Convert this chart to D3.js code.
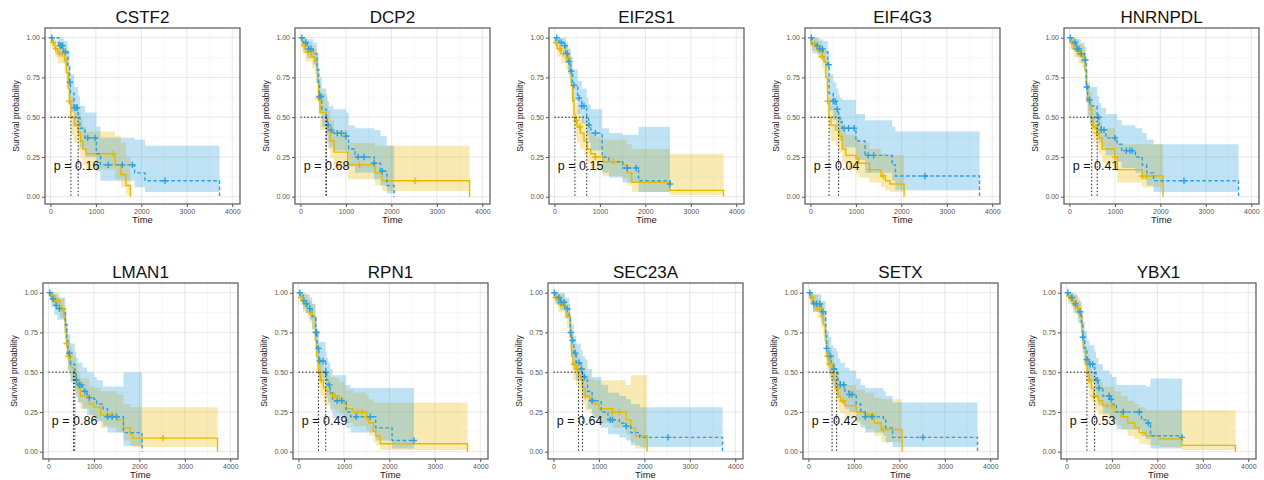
<!DOCTYPE html>
<html>
<head>
<meta charset="utf-8">
<script src="https://cdn.jsdelivr.net/npm/d3@7"></script>
<style>
  body { margin: 0; background: #fff; }
  svg { display: block; font-family: Arial, "Liberation Sans", sans-serif; }
</style>
</head>
<body>
<svg id="chart" width="1264" height="480"></svg>
<script>
const genes = ['CSTF2', 'DCP2', 'EIF2S1', 'EIF4G3', 'HNRNPDL', 'LMAN1', 'RPN1', 'SEC23A', 'SETX', 'YBX1'];
const pValues = ['0.16', '0.68', '0.15', '0.04', '0.41', '0.86', '0.49', '0.64', '0.42', '0.53'];
const xTicks = [0, 1000, 2000, 3000, 4000];
const yTicks = [0, 0.25, 0.5, 0.75, 1];

// rows: [time, survival, lower, upper]
const CSTF2_gold = [[0,1,1,1],[30,0.97,0.93,1],[100,0.93,0.88,0.99],[160,0.9,0.84,0.97],[310,0.86,0.79,0.94],[350,0.78,0.69,0.88],[390,0.68,0.58,0.8],[420,0.6,0.49,0.72],[450,0.5,0.39,0.63],[520,0.45,0.34,0.58],[610,0.4,0.29,0.54],[660,0.35,0.24,0.49],[710,0.3,0.2,0.44],[780,0.27,0.17,0.41],[1420,0.2,0.11,0.38],[1550,0.14,0.06,0.34],[1660,0.07,0.01,0.25],[1760,0,0,0]];
const CSTF2_blue = [[0,1,1,1],[180,0.95,0.89,1],[290,0.91,0.84,0.98],[380,0.82,0.73,0.92],[420,0.72,0.61,0.83],[440,0.65,0.53,0.77],[520,0.56,0.44,0.69],[610,0.5,0.38,0.63],[650,0.43,0.31,0.57],[760,0.37,0.25,0.53],[1010,0.27,0.16,0.44],[1100,0.2,0.1,0.37],[1850,0.15,0.06,0.36],[2080,0.1,0.03,0.32],[3720,0,0,0]];
const CSTF2_goldCens = [60, 120, 200, 260, 420, 1380];
const CSTF2_blueCens = [30, 210, 240, 270, 330, 430, 530, 570, 590, 820, 980, 1270, 1580, 1800, 2520];

const DCP2_gold = [[0,1,1,1],[40,0.95,0.9,1],[110,0.91,0.85,0.97],[250,0.88,0.81,0.95],[310,0.85,0.77,0.93],[370,0.72,0.62,0.82],[400,0.62,0.51,0.73],[430,0.53,0.42,0.65],[560,0.5,0.39,0.62],[600,0.41,0.3,0.54],[660,0.35,0.24,0.48],[740,0.28,0.18,0.42],[1040,0.2,0.11,0.34],[1640,0.15,0.07,0.32],[1800,0.1,0.035,0.32],[3720,0,0,0]];
const DCP2_blue = [[0,1,1,1],[60,0.97,0.92,1],[150,0.93,0.87,0.99],[280,0.9,0.83,0.97],[360,0.8,0.71,0.9],[400,0.7,0.6,0.8],[420,0.63,0.52,0.75],[470,0.55,0.44,0.68],[570,0.5,0.39,0.64],[590,0.45,0.34,0.6],[630,0.42,0.31,0.57],[720,0.4,0.29,0.55],[1000,0.38,0.27,0.53],[1060,0.3,0.19,0.45],[1200,0.25,0.15,0.43],[1620,0.21,0.11,0.42],[1760,0.16,0.07,0.38],[1900,0.07,0.02,0.32],[2060,0,0,0]];
const DCP2_goldCens = [90, 160, 220, 400, 1300, 2520];
const DCP2_blueCens = [30, 120, 180, 230, 420, 450, 610, 680, 810, 900, 1000, 1270, 1400, 1620, 1800];

const EIF2S1_gold = [[0,1,1,1],[20,0.97,0.93,1],[60,0.93,0.88,0.98],[150,0.9,0.84,0.96],[260,0.87,0.8,0.94],[330,0.8,0.72,0.89],[370,0.7,0.61,0.8],[400,0.6,0.5,0.7],[430,0.52,0.42,0.63],[450,0.48,0.38,0.59],[500,0.44,0.34,0.55],[570,0.4,0.3,0.51],[650,0.35,0.26,0.47],[720,0.3,0.21,0.42],[800,0.27,0.18,0.39],[900,0.25,0.16,0.37],[1060,0.22,0.13,0.36],[1500,0.2,0.11,0.36],[1600,0.15,0.07,0.33],[1700,0.09,0.03,0.3],[2540,0.04,0.01,0.27],[3720,0,0,0]];
const EIF2S1_blue = [[0,1,1,1],[100,0.97,0.93,1],[200,0.95,0.9,1],[250,0.9,0.84,0.97],[300,0.85,0.77,0.93],[360,0.79,0.7,0.88],[400,0.7,0.6,0.8],[510,0.62,0.52,0.73],[600,0.57,0.46,0.68],[710,0.5,0.39,0.62],[750,0.45,0.34,0.58],[800,0.4,0.29,0.55],[1050,0.25,0.15,0.43],[1200,0.22,0.12,0.4],[1500,0.18,0.09,0.39],[1850,0.1,0.03,0.44],[2540,0.08,0.02,0.44]];
const EIF2S1_goldCens = [40, 120, 200, 300, 480, 560, 900, 1300];
const EIF2S1_blueCens = [50, 150, 230, 280, 320, 370, 430, 540, 600, 650, 760, 900, 1600, 1800, 2540];

const EIF4G3_gold = [[0,1,1,1],[10,0.96,0.92,1],[150,0.92,0.87,0.98],[250,0.88,0.81,0.95],[300,0.85,0.77,0.93],[340,0.75,0.66,0.85],[380,0.6,0.5,0.71],[410,0.5,0.4,0.62],[450,0.45,0.35,0.57],[550,0.42,0.32,0.54],[620,0.38,0.28,0.5],[700,0.3,0.21,0.43],[780,0.26,0.17,0.39],[1000,0.24,0.15,0.37],[1060,0.21,0.12,0.34],[1300,0.17,0.09,0.3],[1550,0.13,0.06,0.27],[1650,0.1,0.04,0.26],[1750,0.08,0.03,0.26],[2060,0,0,0]];
const EIF4G3_blue = [[0,1,1,1],[40,0.95,0.9,1],[200,0.93,0.87,0.99],[280,0.91,0.84,0.98],[380,0.83,0.74,0.92],[410,0.65,0.54,0.77],[500,0.6,0.48,0.72],[570,0.55,0.43,0.68],[620,0.5,0.38,0.64],[650,0.47,0.35,0.62],[700,0.43,0.31,0.61],[1000,0.35,0.23,0.52],[1200,0.26,0.15,0.48],[1800,0.2,0.1,0.44],[1870,0.13,0.04,0.41],[3720,0,0,0]];
const EIF4G3_goldCens = [100, 200, 260, 380, 1300, 1600];
const EIF4G3_blueCens = [20, 150, 200, 260, 400, 500, 540, 590, 740, 840, 960, 1270, 1390, 2520];

const HNRNPDL_gold = [[0,1,1,1],[20,0.97,0.93,1],[100,0.93,0.88,0.99],[200,0.9,0.84,0.96],[280,0.88,0.81,0.95],[340,0.8,0.72,0.88],[370,0.7,0.61,0.79],[400,0.6,0.5,0.7],[450,0.55,0.45,0.66],[490,0.5,0.4,0.61],[520,0.44,0.34,0.56],[600,0.4,0.3,0.52],[650,0.37,0.27,0.49],[720,0.3,0.21,0.43],[1000,0.25,0.16,0.38],[1050,0.17,0.09,0.33],[1600,0.13,0.06,0.33],[2060,0,0,0]];
const HNRNPDL_blue = [[0,1,1,1],[40,0.97,0.93,1],[150,0.93,0.88,0.99],[250,0.9,0.84,0.97],[330,0.86,0.79,0.94],[370,0.69,0.59,0.8],[400,0.61,0.5,0.72],[450,0.57,0.46,0.69],[610,0.5,0.39,0.63],[650,0.45,0.34,0.59],[700,0.42,0.31,0.56],[800,0.37,0.26,0.52],[1050,0.33,0.22,0.48],[1150,0.29,0.18,0.45],[1450,0.25,0.15,0.43],[1600,0.2,0.11,0.4],[1700,0.15,0.07,0.36],[1850,0.1,0.03,0.33],[3720,0,0,0]];
const HNRNPDL_goldCens = [60, 130, 180, 240, 560, 600, 1000, 1600, 1700];
const HNRNPDL_blueCens = [20, 120, 170, 210, 260, 350, 380, 440, 640, 700, 760, 1000, 1250, 1330, 1380, 2520];

const LMAN1_gold = [[0,1,1,1],[50,0.98,0.95,1],[150,0.95,0.9,1],[250,0.9,0.84,0.96],[340,0.85,0.78,0.92],[370,0.75,0.67,0.84],[400,0.68,0.59,0.77],[420,0.6,0.51,0.7],[460,0.57,0.48,0.67],[500,0.53,0.44,0.63],[550,0.5,0.41,0.6],[600,0.45,0.36,0.55],[650,0.4,0.31,0.5],[700,0.35,0.27,0.46],[900,0.3,0.22,0.41],[1000,0.28,0.2,0.4],[1150,0.23,0.15,0.38],[1500,0.2,0.12,0.36],[1650,0.15,0.07,0.3],[1800,0.11,0.04,0.28],[1850,0.085,0.03,0.28],[3720,0,0,0]];
const LMAN1_blue = [[0,1,1,1],[60,0.96,0.91,1],[130,0.92,0.86,0.99],[200,0.9,0.83,0.97],[370,0.8,0.71,0.89],[400,0.7,0.6,0.81],[430,0.62,0.51,0.74],[480,0.55,0.44,0.68],[580,0.5,0.39,0.63],[610,0.45,0.34,0.59],[650,0.42,0.31,0.56],[750,0.38,0.27,0.53],[850,0.34,0.23,0.5],[1000,0.33,0.22,0.47],[1060,0.3,0.19,0.45],[1200,0.27,0.16,0.41],[1300,0.22,0.12,0.41],[1650,0.12,0.035,0.5],[2060,0,0,0]];
const LMAN1_goldCens = [80, 150, 200, 250, 300, 400, 450, 1300, 1400, 2520];
const LMAN1_blueCens = [30, 100, 170, 240, 460, 620, 680, 720, 800, 900, 1300, 1400, 1500];

const RPN1_gold = [[0,1,1,1],[30,0.97,0.93,1],[100,0.93,0.88,0.99],[200,0.9,0.84,0.96],[250,0.88,0.81,0.95],[300,0.85,0.77,0.93],[370,0.7,0.61,0.8],[400,0.6,0.5,0.7],[440,0.5,0.4,0.61],[480,0.45,0.35,0.56],[550,0.4,0.31,0.51],[600,0.38,0.29,0.49],[700,0.36,0.27,0.47],[800,0.35,0.26,0.46],[900,0.33,0.24,0.44],[1000,0.3,0.21,0.42],[1050,0.27,0.18,0.39],[1200,0.25,0.16,0.37],[1500,0.22,0.13,0.35],[1550,0.18,0.1,0.33],[1650,0.13,0.06,0.31],[1700,0.1,0.04,0.31],[1800,0.05,0.01,0.31],[3720,0,0,0]];
const RPN1_blue = [[0,1,1,1],[100,0.95,0.9,1],[150,0.93,0.87,0.99],[250,0.9,0.83,0.97],[300,0.85,0.77,0.93],[380,0.75,0.65,0.85],[410,0.65,0.54,0.76],[450,0.57,0.46,0.69],[600,0.5,0.39,0.63],[620,0.45,0.34,0.59],[650,0.42,0.31,0.56],[700,0.37,0.26,0.52],[750,0.32,0.21,0.48],[1050,0.25,0.15,0.42],[1150,0.22,0.12,0.4],[1700,0.15,0.07,0.4],[2060,0.07,0.02,0.4],[2540,0.07,0.02,0.4]];
const RPN1_goldCens = [60, 150, 250, 470, 500, 800, 1300, 1400, 1500];
const RPN1_blueCens = [30, 120, 180, 250, 380, 400, 440, 470, 540, 600, 680, 850, 950, 1270, 1580, 2540];

const SEC23A_gold = [[0,1,1,1],[20,0.97,0.93,1],[100,0.93,0.88,0.99],[250,0.9,0.84,0.96],[300,0.85,0.78,0.93],[370,0.72,0.63,0.82],[400,0.6,0.5,0.7],[430,0.55,0.45,0.66],[500,0.52,0.42,0.63],[550,0.48,0.38,0.59],[600,0.45,0.35,0.56],[650,0.4,0.3,0.52],[700,0.35,0.26,0.48],[800,0.33,0.24,0.46],[900,0.3,0.21,0.45],[1000,0.27,0.18,0.45],[1300,0.25,0.15,0.45],[1600,0.2,0.11,0.42],[1700,0.15,0.06,0.48],[1800,0.1,0.02,0.48],[2060,0,0,0]];
const SEC23A_blue = [[0,1,1,1],[50,0.97,0.93,1],[150,0.94,0.89,1],[250,0.9,0.84,0.97],[350,0.85,0.77,0.93],[370,0.75,0.66,0.85],[400,0.7,0.6,0.8],[450,0.62,0.51,0.73],[500,0.56,0.45,0.68],[600,0.52,0.41,0.64],[640,0.47,0.36,0.6],[700,0.45,0.34,0.58],[750,0.38,0.27,0.52],[850,0.32,0.21,0.47],[1050,0.25,0.15,0.42],[1200,0.2,0.11,0.37],[1450,0.18,0.09,0.35],[1600,0.16,0.07,0.33],[1700,0.12,0.04,0.3],[1900,0.09,0.03,0.28],[3720,0,0,0]];
const SEC23A_goldCens = [50, 150, 200, 450, 520, 700, 1300, 1450];
const SEC23A_blueCens = [20, 120, 170, 230, 300, 380, 420, 480, 560, 620, 680, 850, 1250, 1300, 1600, 2520];

const SETX_gold = [[0,1,1,1],[30,0.97,0.93,1],[100,0.93,0.88,0.99],[200,0.9,0.84,0.96],[280,0.85,0.78,0.93],[330,0.8,0.72,0.88],[370,0.7,0.61,0.79],[400,0.6,0.51,0.7],[450,0.55,0.46,0.65],[520,0.5,0.41,0.61],[560,0.45,0.36,0.56],[600,0.4,0.31,0.51],[650,0.35,0.26,0.46],[700,0.32,0.24,0.44],[800,0.29,0.21,0.42],[1050,0.25,0.17,0.39],[1250,0.23,0.14,0.37],[1450,0.18,0.1,0.34],[1600,0.14,0.06,0.33],[2060,0,0,0]];
const SETX_blue = [[0,1,1,1],[40,0.97,0.93,1],[100,0.93,0.88,0.99],[280,0.88,0.81,0.95],[380,0.75,0.65,0.85],[400,0.65,0.54,0.76],[450,0.6,0.49,0.72],[500,0.55,0.44,0.67],[550,0.52,0.41,0.65],[620,0.5,0.39,0.63],[650,0.45,0.34,0.59],[700,0.42,0.31,0.56],[800,0.38,0.27,0.53],[900,0.36,0.25,0.51],[1050,0.3,0.19,0.46],[1150,0.25,0.15,0.42],[1250,0.22,0.12,0.4],[1650,0.2,0.1,0.38],[1700,0.15,0.06,0.35],[1850,0.09,0.03,0.31],[3720,0,0,0]];
const SETX_goldCens = [80, 150, 200, 250, 420, 470, 640, 760, 1300, 1400, 1650];
const SETX_blueCens = [30, 120, 180, 250, 320, 400, 480, 560, 700, 780, 900, 960, 1250, 1400, 2520];

const YBX1_gold = [[0,1,1,1],[30,0.98,0.95,1],[100,0.95,0.9,1],[200,0.92,0.86,0.98],[250,0.9,0.84,0.97],[300,0.85,0.78,0.93],[340,0.75,0.66,0.85],[370,0.65,0.55,0.75],[420,0.55,0.45,0.66],[450,0.5,0.4,0.61],[500,0.45,0.35,0.56],[550,0.4,0.31,0.51],[600,0.35,0.26,0.47],[700,0.32,0.23,0.44],[800,0.29,0.21,0.41],[1050,0.25,0.17,0.38],[1200,0.22,0.14,0.35],[1350,0.18,0.1,0.32],[1500,0.15,0.08,0.3],[1600,0.12,0.05,0.28],[1750,0.1,0.04,0.26],[2060,0.08,0.03,0.26],[2540,0.04,0.01,0.26],[3720,0,0,0]];
const YBX1_blue = [[0,1,1,1],[50,0.97,0.93,1],[150,0.93,0.87,0.99],[250,0.88,0.81,0.95],[330,0.8,0.71,0.89],[360,0.72,0.62,0.82],[400,0.65,0.54,0.76],[450,0.58,0.47,0.7],[500,0.55,0.44,0.67],[620,0.5,0.39,0.63],[650,0.45,0.34,0.59],[700,0.4,0.29,0.55],[800,0.35,0.24,0.51],[950,0.33,0.22,0.49],[1000,0.3,0.19,0.47],[1100,0.25,0.14,0.42],[1650,0.2,0.1,0.42],[1750,0.18,0.08,0.41],[1850,0.1,0.02,0.46],[2540,0.09,0.02,0.46]];
const YBX1_goldCens = [60, 150, 200, 260, 500, 600, 900, 1000];
const YBX1_blueCens = [30, 120, 200, 300, 360, 450, 520, 580, 680, 720, 940, 980, 1250, 1600, 1800, 2540];

const goldCurves = [CSTF2_gold, DCP2_gold, EIF2S1_gold, EIF4G3_gold, HNRNPDL_gold, LMAN1_gold, RPN1_gold, SEC23A_gold, SETX_gold, YBX1_gold];
const blueCurves = [CSTF2_blue, DCP2_blue, EIF2S1_blue, EIF4G3_blue, HNRNPDL_blue, LMAN1_blue, RPN1_blue, SEC23A_blue, SETX_blue, YBX1_blue];
const goldCensors = [CSTF2_goldCens, DCP2_goldCens, EIF2S1_goldCens, EIF4G3_goldCens, HNRNPDL_goldCens, LMAN1_goldCens, RPN1_goldCens, SEC23A_goldCens, SETX_goldCens, YBX1_goldCens];
const blueCensors = [CSTF2_blueCens, DCP2_blueCens, EIF2S1_blueCens, EIF4G3_blueCens, HNRNPDL_blueCens, LMAN1_blueCens, RPN1_blueCens, SEC23A_blueCens, SETX_blueCens, YBX1_blueCens];

const dims = { width: 195, height: 176 };
const colLeft = [[45, 295, 549, 805, 1064], [43, 293, 548, 803, 1061]];
const rowTop = [28, 283];

const groups = [
  { curves: goldCurves, censors: goldCensors, color: '#E7B800', dash: null },
  { curves: blueCurves, censors: blueCensors, color: '#2E9FDF', dash: '3.5,2.5' },
];

const xScale = d3.scaleLinear().domain([-120, 4170]).range([0, dims.width]);
const yScale = d3.scaleLinear().domain([-0.046, 1.061]).range([dims.height, 0]);

const survAt = (curve, t) => {
  let s = curve[0][1];
  curve.forEach(d => { if (d[0] <= t) s = d[1]; });
  return s;
};
const median = curve => {
  const row = curve.find(d => d[1] <= 0.5);
  return row ? row[0] : null;
};

const lineGen = d3.line()
  .x(d => xScale(d[0]))
  .y(d => yScale(d[1]))
  .curve(d3.curveStepAfter);

const bandGen = d3.area()
  .x(d => xScale(d[0]))
  .y0(d => yScale(d[2]))
  .y1(d => yScale(d[3]))
  .curve(d3.curveStepAfter);

const svg = d3.select('#chart');
svg.append('rect').attr('width', 1264).attr('height', 480).attr('fill', '#fff');

genes.forEach((gene, i) => {
  const row = Math.floor(i / 5);
  const col = i % 5;
  const g = svg.append('g')
    .attr('transform', `translate(${colLeft[row][col]},${rowTop[row]})`);

  // grid
  const grid = g.append('g');
  d3.range(500, 4000, 1000).forEach(v => {
    grid.append('line').attr('x1', xScale(v)).attr('x2', xScale(v))
      .attr('y1', 0).attr('y2', dims.height)
      .attr('stroke', '#f2f2f2').attr('stroke-width', 0.6);
  });
  d3.range(0.125, 1, 0.25).forEach(v => {
    grid.append('line').attr('y1', yScale(v)).attr('y2', yScale(v))
      .attr('x1', 0).attr('x2', dims.width)
      .attr('stroke', '#f2f2f2').attr('stroke-width', 0.6);
  });
  xTicks.forEach(v => {
    grid.append('line').attr('x1', xScale(v)).attr('x2', xScale(v))
      .attr('y1', 0).attr('y2', dims.height)
      .attr('stroke', '#e4e4e4').attr('stroke-width', 0.9);
  });
  yTicks.forEach(v => {
    grid.append('line').attr('y1', yScale(v)).attr('y2', yScale(v))
      .attr('x1', 0).attr('x2', dims.width)
      .attr('stroke', '#e4e4e4').attr('stroke-width', 0.9);
  });

  // confidence bands
  groups.forEach(grp => {
    g.append('path')
      .attr('d', bandGen(grp.curves[i]))
      .attr('fill', grp.color)
      .attr('fill-opacity', 0.3);
  });

  // survival curves
  groups.forEach(grp => {
    g.append('path')
      .attr('d', lineGen(grp.curves[i]))
      .attr('fill', 'none')
      .attr('stroke', grp.color)
      .attr('stroke-width', 1.4)
      .attr('stroke-dasharray', grp.dash);
  });

  // censor marks
  groups.forEach(grp => {
    g.selectAll(null)
      .data(grp.censors[i])
      .join('path')
      .attr('transform', t => `translate(${xScale(t)},${yScale(survAt(grp.curves[i], t))})`)
      .attr('d', 'M-3.2,0H3.2M0,-3.2V3.2')
      .attr('stroke', grp.color)
      .attr('stroke-width', 1.4);
  });

  // median survival lines
  const meds = groups.map(grp => median(grp.curves[i])).filter(m => m !== null);
  g.append('path')
    .attr('d', d3.line()([[xScale(0), yScale(0.5)], [xScale(d3.max(meds)), yScale(0.5)]]))
    .attr('stroke', '#222').attr('stroke-width', 1)
    .attr('stroke-dasharray', '1.5,2');
  meds.forEach(m => {
    g.append('path')
      .attr('d', d3.line()([[xScale(m), yScale(0.5)], [xScale(m), yScale(0)]]))
      .attr('stroke', '#222').attr('stroke-width', 1)
      .attr('stroke-dasharray', '1.5,2');
  });

  // p value
  g.append('text')
    .attr('x', xScale(75))
    .attr('y', yScale(0.168))
    .attr('font-size', 12.5)
    .attr('fill', '#111')
    .text(`p = ${pValues[i]}`);

  // axes
  const xAxis = d3.axisBottom(xScale).tickValues(xTicks).tickSize(3).tickPadding(2)
    .tickFormat(d3.format('d'));
  const yAxis = d3.axisLeft(yScale).tickValues(yTicks).tickSize(3).tickPadding(2)
    .tickFormat(d3.format('.2f'));

  const xg = g.append('g').attr('transform', `translate(0,${dims.height})`).call(xAxis);
  const yg = g.append('g').call(yAxis);
  [xg, yg].forEach(ax => {
    ax.select('.domain').remove();
    ax.selectAll('line').attr('stroke', '#555');
    ax.selectAll('text').attr('fill', '#555').attr('font-size', 7)
      .attr('font-family', 'Arial, "Liberation Sans", sans-serif');
  });

  // border
  g.append('rect')
    .attr('width', dims.width).attr('height', dims.height)
    .attr('fill', 'none').attr('stroke', '#555').attr('stroke-width', 1.2);

  // titles
  g.append('text')
    .attr('x', dims.width / 2).attr('y', -5)
    .attr('text-anchor', 'middle')
    .attr('font-size', 17)
    .attr('fill', '#111')
    .text(gene);

  g.append('text')
    .attr('x', dims.width / 2).attr('y', dims.height + 19)
    .attr('text-anchor', 'middle')
    .attr('font-size', 9.5)
    .attr('fill', '#222')
    .text('Time');

  g.append('text')
    .attr('transform', `translate(-28,${dims.height / 2}) rotate(-90)`)
    .attr('text-anchor', 'middle')
    .attr('dominant-baseline', 'middle')
    .attr('font-size', 8.5)
    .attr('fill', '#222')
    .text('Survival probability');
});
</script>
</body>
</html>
